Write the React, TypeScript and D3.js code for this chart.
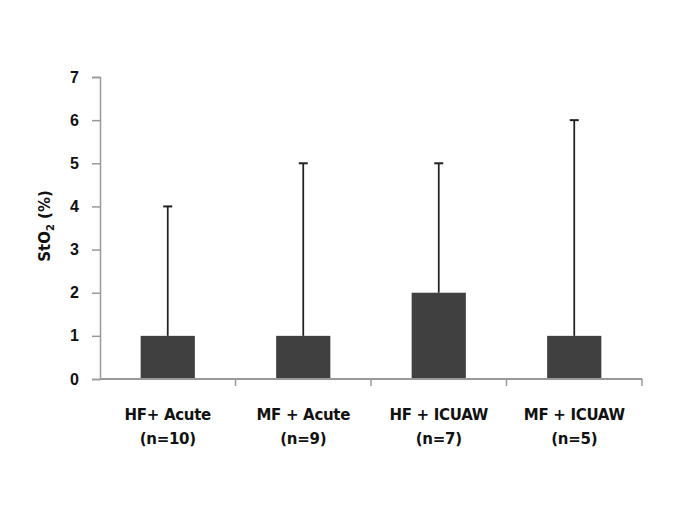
import React, { useEffect, useRef } from 'react';
import * as d3 from 'd3';

const groups = ['HF+ Acute', 'MF + Acute', 'HF + ICUAW', 'MF + ICUAW'];
const counts = ['(n=10)', '(n=9)', '(n=7)', '(n=5)'];
const values = [1, 1, 2, 1];
const upper = [4, 5, 5, 6];
const yTicks = [0, 1, 2, 3, 4, 5, 6, 7];

const App: React.FC = () => {
  const ref = useRef<SVGSVGElement | null>(null);

  useEffect(() => {
    if (!ref.current) return;
    const svg = d3.select(ref.current);
    svg.selectAll('*').remove();

    const left = 100;
    const right = 642;
    const top = 77;
    const bottom = 379;
    const font = "'DejaVu Sans', Verdana, sans-serif";

    const x = d3.scaleBand<string>().domain(groups).range([left, right])
      .paddingInner(0.6).paddingOuter(0.3);
    const y = d3.scaleLinear().domain([0, 7]).range([bottom, top]);
    const step = x.step();
    const cx = (d: string) => (x(d) || 0) + x.bandwidth() / 2;

    const g = svg.append('g');

    // bars
    g.selectAll('rect.bar')
      .data(groups)
      .enter()
      .append('rect')
      .attr('class', 'bar')
      .attr('x', d => x(d) || 0)
      .attr('y', (d, i) => y(values[i]))
      .attr('width', x.bandwidth())
      .attr('height', (d, i) => bottom - y(values[i]))
      .attr('fill', '#404040');

    // error bars (upper only)
    const err = g.selectAll('g.err').data(groups).enter().append('g').attr('class', 'err');
    err.append('line')
      .attr('x1', cx)
      .attr('x2', cx)
      .attr('y1', (d, i) => y(values[i]))
      .attr('y2', (d, i) => y(upper[i]))
      .attr('stroke', '#222')
      .attr('stroke-width', 1.75);
    err.append('line')
      .attr('x1', d => cx(d) - 4.5)
      .attr('x2', d => cx(d) + 4.5)
      .attr('y1', (d, i) => y(upper[i]))
      .attr('y2', (d, i) => y(upper[i]))
      .attr('stroke', '#222')
      .attr('stroke-width', 2);

    // y axis
    const yAxis = g.append('g').attr('transform', `translate(${left},0)`)
      .call(d3.axisLeft(y).tickValues(yTicks).tickSize(8).tickPadding(13).tickFormat(d3.format('d')));
    yAxis.select('.domain').attr('stroke', '#999').attr('stroke-width', 1.5);
    yAxis.selectAll('.tick line').attr('stroke', '#999').attr('stroke-width', 1.5);
    yAxis.selectAll('.tick text')
      .attr('fill', '#111')
      .style('font-family', "'Liberation Sans', Arial, sans-serif")
      .style('font-weight', 'bold')
      .style('font-size', '16px');

    // x axis with boundary ticks
    const xAxis = g.append('g').attr('transform', `translate(0,${bottom})`);
    xAxis.append('line')
      .attr('x1', left).attr('x2', right)
      .attr('stroke', '#999').attr('stroke-width', 2);
    xAxis.selectAll('line.tk')
      .data(groups)
      .enter()
      .append('line')
      .attr('class', 'tk')
      .attr('x1', d => cx(d) + step / 2)
      .attr('x2', d => cx(d) + step / 2)
      .attr('y1', 0)
      .attr('y2', 7)
      .attr('stroke', '#999')
      .attr('stroke-width', 1.5);

    const lab = g.selectAll('text.xl').data(groups).enter().append('text')
      .attr('class', 'xl')
      .attr('text-anchor', 'middle')
      .attr('fill', '#111')
      .style('font-family', font)
      .style('font-weight', 'bold')
      .style('font-size', '15px')
      .style('letter-spacing', '-0.3px');
    lab.append('tspan').attr('x', cx).attr('y', 420).text(d => d);
    lab.append('tspan').attr('x', cx).attr('y', 444).text((d, i) => counts[i]);

    // y axis title
    const title = g.append('text')
      .attr('transform', `translate(50,${(top + bottom) / 2 - 2}) rotate(-90)`)
      .attr('text-anchor', 'middle')
      .attr('fill', '#111')
      .style('font-family', font)
      .style('font-weight', 'bold')
      .style('font-size', '15px');
    title.append('tspan').text('StO');
    title.append('tspan').attr('dy', 4).style('font-size', '10px').text('2');
    title.append('tspan').attr('dy', -4).text(' (%)');
  }, []);

  return (
    <svg
      ref={ref}
      width={685}
      height={513}
      style={{ position: 'absolute', left: 0, top: 0, background: '#fff' }}
    />
  );
};

export default App;
